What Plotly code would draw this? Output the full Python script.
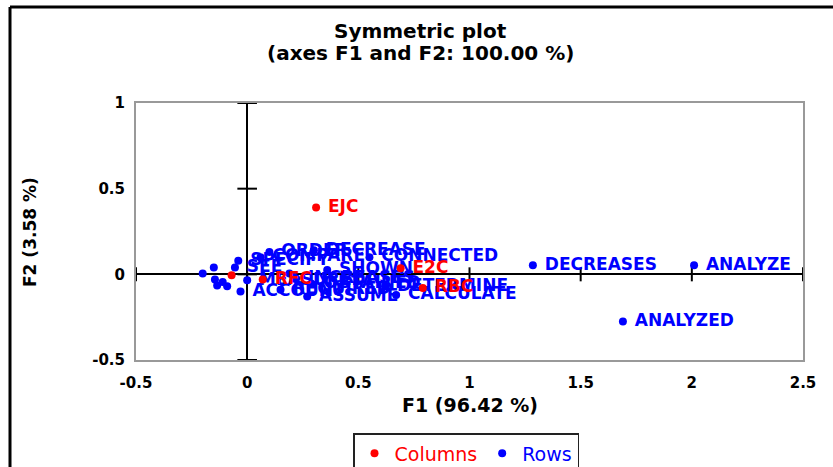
import plotly.graph_objects as go

# ---- data ----
row_names = ["ANALYZE", "ANALYZED", "DECREASES", "CALCULATE", "DETERMINE", "CONNECTED",
             "SHOWN", "ASSUME", "DECREASE", "INCREASES", "OBTAINED", "ORDER", "COMPARE",
             "SPECIFY", "SEE", "ACCOUNT", "REQUIRED", "MEASURED",
             "", "", "", "", "", "", ""]
row_x = [2.01, 1.69, 1.285, 0.67, 0.62, 0.55,
         0.36, 0.27, 0.30, 0.22, 0.29, 0.10, 0.06,
         -0.04, -0.055, -0.03, 0.15, 0.00,
         -0.20, -0.15, -0.145, -0.11, -0.09, -0.135, 0.19]
row_y = [0.053, -0.275, 0.053, -0.12, -0.07, 0.10,
         0.025, -0.13, 0.14, -0.025, -0.055, 0.13, 0.10,
         0.08, 0.04, -0.10, -0.09, -0.035,
         0.005, 0.04, -0.03, -0.045, -0.07, -0.065, 0.005]

col_names = ["EJC", "E2C", "RBC", "", "RFC"]
col_x = [0.31, 0.69, 0.79, -0.07, 0.07]
col_y = [0.39, 0.035, -0.08, -0.005, -0.03]

x_ticks = [-0.5, 0, 0.5, 1, 1.5, 2, 2.5]
y_ticks = [-0.5, 0, 0.5, 1]

title_lines = ["Symmetric plot", "(axes F1 and F2: 100.00 %)"]
x_title = "F1 (96.42 %)"
y_title = "F2 (3.58 %)"

BLUE = "#0000ff"
RED = "#ff0000"

fig = go.Figure()

# tick marks on the zero axes
fig.add_trace(go.Scatter(x=x_ticks, y=[0] * len(x_ticks), mode="markers",
                         marker=dict(symbol="line-ns-open", size=10, color="black",
                                     line=dict(color="black", width=2)),
                         showlegend=False, hoverinfo="skip"))
fig.add_trace(go.Scatter(x=[0] * len(y_ticks), y=y_ticks, mode="markers",
                         marker=dict(symbol="line-ew-open", size=14, color="black",
                                     line=dict(color="black", width=2)),
                         showlegend=False, hoverinfo="skip"))

fig.add_trace(go.Scatter(x=row_x, y=row_y, mode="markers+text",
                         name="<span style='color:#0000ff'>Rows</span>",
                         text=[(" " + n) if n else "" for n in row_names],
                         textposition="middle right",
                         textfont=dict(family="DejaVu Sans", size=17, color=BLUE, weight="bold"),
                         marker=dict(color=BLUE, size=8), legendrank=2))
fig.add_trace(go.Scatter(x=col_x, y=col_y, mode="markers+text",
                         name="<span style='color:#ff0000'>Columns</span>",
                         text=[(" " + n) if n else "" for n in col_names],
                         textposition="middle right",
                         textfont=dict(family="DejaVu Sans", size=17, color=RED, weight="bold"),
                         marker=dict(color=RED, size=8), legendrank=1))

W, H = 833, 467
L, R, T, B = 136, 30, 103, 107
pw, ph = W - L - R, H - T - B


def px(xp):
    return (xp - L) / pw


def py(yp):
    return (H - B - yp) / ph


axis_common = dict(showgrid=False, showline=True, mirror=True, linecolor="#999999", linewidth=2,
                   zeroline=True, zerolinecolor="black", zerolinewidth=2, ticks="",
                   tickfont=dict(family="DejaVu Sans", size=15, color="black", weight="bold"))

ann = dict(xref="paper", yref="paper", showarrow=False, xanchor="center", yanchor="middle")

fig.update_layout(
    width=W, height=H, margin=dict(l=L, r=R, t=T, b=B, autoexpand=False),
    paper_bgcolor="white", plot_bgcolor="white",
    xaxis=dict(range=[-0.5, 2.5], tickvals=x_ticks, ticktext=[str(v) for v in x_ticks],
               ticklabelstandoff=8, **axis_common),
    yaxis=dict(range=[-0.5, 1], tickvals=y_ticks, ticktext=[str(v) for v in y_ticks],
               ticklabelstandoff=6, **axis_common),
    showlegend=True,
    legend=dict(orientation="h", xref="container", yref="container",
                x=353 / W, y=(H - 433) / H, xanchor="left", yanchor="top",
                bordercolor="#222222", borderwidth=1.5, bgcolor="white",
                font=dict(family="DejaVu Sans", size=19, color="black")),
    annotations=[
        dict(text="<b>" + title_lines[0] + "</b>", x=px(420), y=py(31),
             font=dict(family="DejaVu Sans", size=20, color="black"), **ann),
        dict(text="<b>" + title_lines[1] + "</b>", x=px(420), y=py(53),
             font=dict(family="DejaVu Sans", size=20, color="black"), **ann),
        dict(text="<b>" + x_title + "</b>", x=px(470), y=py(405),
             font=dict(family="DejaVu Sans", size=19, color="black"), **ann),
        dict(text="<b>" + y_title + "</b>", x=px(30), y=py(232), textangle=-90,
             font=dict(family="DejaVu Sans", size=17, color="black"), **ann),
    ],
    shapes=[
        dict(type="line", xref="paper", yref="paper", x0=px(10), y0=py(7), x1=px(833), y1=py(7),
             line=dict(color="black", width=3)),
        dict(type="line", xref="paper", yref="paper", x0=px(10), y0=py(7), x1=px(10), y1=py(470),
             line=dict(color="black", width=3)),
    ],
)

fig.write_html("out.html", config={"displayModeBar": False},
               post_script="document.body.style.margin='0px';")
